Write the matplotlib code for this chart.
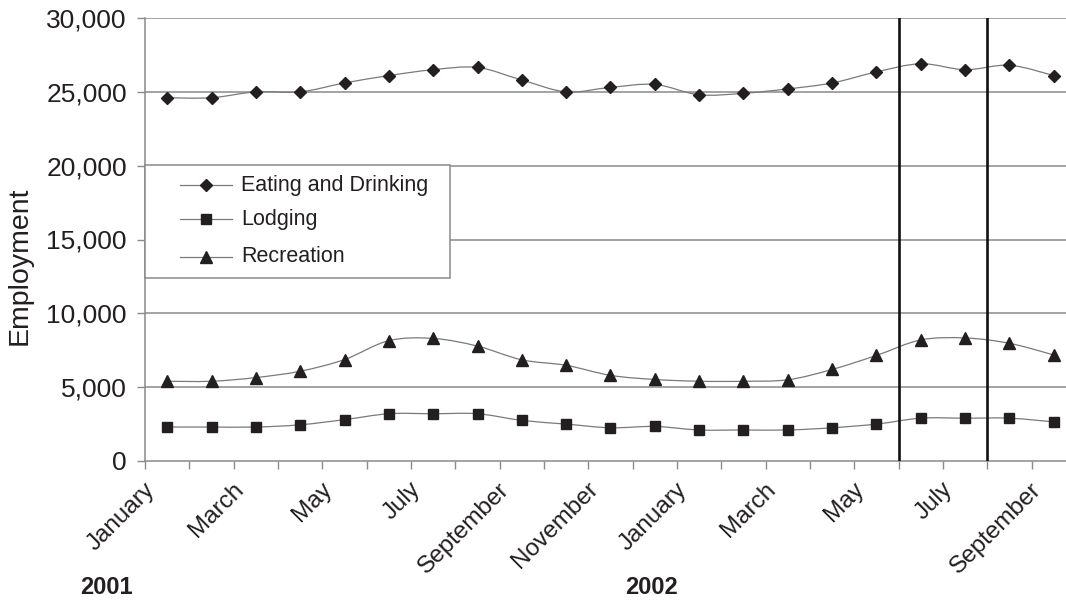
import numpy as np
import matplotlib
matplotlib.use("Agg")
import matplotlib.pyplot as plt
import matplotlib.transforms as mtransforms
from matplotlib.path import Path
from matplotlib.patches import PathPatch, Rectangle
from matplotlib.lines import Line2D
from matplotlib.ticker import FuncFormatter, FixedLocator

# Monthly employment, January 2001 - September 2002
months = ["Jan 2001", "Feb 2001", "Mar 2001", "Apr 2001", "May 2001", "Jun 2001",
          "Jul 2001", "Aug 2001", "Sep 2001", "Oct 2001", "Nov 2001", "Dec 2001",
          "Jan 2002", "Feb 2002", "Mar 2002", "Apr 2002", "May 2002", "Jun 2002",
          "Jul 2002", "Aug 2002", "Sep 2002"]
month_labels = ["January", "March", "May", "July", "September", "November",
                "January", "March", "May", "July", "September"]
years = ["2001", "2002"]

eating = [24600, 24600, 25000, 25000, 25600, 26100, 26500, 26650, 25800, 25000, 25300,
          25500, 24800, 24900, 25200, 25600, 26350, 26900, 26500, 26800, 26100]
lodging = [2300, 2300, 2300, 2450, 2800, 3200, 3200, 3200, 2750, 2500, 2250,
           2340, 2100, 2100, 2100, 2250, 2500, 2900, 2900, 2900, 2650]
recreation = [5400, 5400, 5650, 6080, 6870, 8150, 8300, 7780, 6850, 6480, 5800,
              5520, 5400, 5400, 5500, 6200, 7150, 8200, 8330, 7970, 7180]

# Months bracketed by the two vertical markers (June - July 2002)
highlight = ("Jun 2002", "Jul 2002")

plt.rcParams['font.family'] = ['Liberation Sans', 'DejaVu Sans']
TXT = "#231f20"
GRID = "#8a8a8a"
LINE = "#7a7a7a"

fig = plt.figure(figsize=(10.66, 6.0), dpi=100)
W, H = 1066, 600
ax = fig.add_axes([145 / W, 1 - 461 / H, 931 / W, 443 / H])

x = np.arange(len(months))


def smooth_path(xs, ys):
    """Catmull-Rom style Bezier curve through the points."""
    pts = np.column_stack([xs, ys]).astype(float)
    n = len(pts)
    verts = [pts[0]]
    codes = [Path.MOVETO]
    for i in range(n - 1):
        p0 = pts[i - 1] if i > 0 else pts[i]
        p1 = pts[i]
        p2 = pts[i + 1]
        p3 = pts[i + 2] if i + 2 < n else pts[i + 1]
        c1 = p1 + (p2 - p0) / 6.0
        c2 = p2 - (p3 - p1) / 6.0
        verts += [c1, c2, p2]
        codes += [Path.CURVE4] * 3
    return Path(verts, codes)


series = [
    (eating, "D", 6.4, "Eating and Drinking"),
    (lodging, "s", 7.4, "Lodging"),
    (recreation, "^", 8.5, "Recreation"),
]

for vals, mk, ms, name in series:
    ax.add_patch(PathPatch(smooth_path(x, vals), facecolor="none",
                           edgecolor=LINE, lw=0.9, zorder=3))
    ax.plot(x, vals, linestyle="none", marker=mk, ms=ms, color="#231f20",
            mec="#231f20", zorder=4)

ax.set_xlim(-0.5, len(months) - 0.5)
ax.set_ylim(0, 30000)

# horizontal grid
yt = np.arange(0, 30001, 5000)
for v in yt[1:]:
    ax.axhline(v, color=GRID, lw=1.1, zorder=1)

# vertical markers around the highlighted months
i0 = months.index(highlight[0])
i1 = months.index(highlight[1])
for b in (i0 - 0.5, i1 + 0.5):
    ax.axvline(b, color="#111111", lw=1.9, zorder=5)

for s in ("top", "right"):
    ax.spines[s].set_visible(False)
for s in ("left", "bottom"):
    ax.spines[s].set_color(GRID)
    ax.spines[s].set_linewidth(1.1)

ax.set_yticks(yt)
ax.yaxis.set_major_formatter(FuncFormatter(lambda v, p: f"{int(v):,}"))
ax.tick_params(axis="y", length=5.5, width=1, color=GRID, pad=7.5,
               labelsize=19, labelcolor=TXT)

ax.xaxis.set_major_locator(FixedLocator(np.arange(-0.5, len(months), 1.0)))
ax.tick_params(axis="x", length=6, width=1, color=GRID, labelbottom=False)

# rotated month labels, every second month
lab_tr = mtransforms.offset_copy(ax.get_xaxis_transform(), fig=fig,
                                 x=-16, y=-25, units="dots")
for k, lab in enumerate(month_labels):
    ax.text(2 * k, 0, lab, transform=lab_tr, rotation=45,
            rotation_mode="anchor", ha="right", va="center",
            fontsize=17.5, color=TXT, clip_on=False)

# year labels
fig.text(80 / W, 1 - 587 / H, years[0], fontsize=17, fontweight="bold",
         color=TXT, ha="left", va="center")
fig.text(625 / W, 1 - 587 / H, years[1], fontsize=17, fontweight="bold",
         color=TXT, ha="left", va="center")

fig.text(20 / W, 1 - 266 / H, "Employment", rotation=90, fontsize=20.5,
         color=TXT, ha="center", va="center")

# legend box
fig.patches.append(Rectangle((145 / W, 1 - 278 / H), 305 / W, 113 / H,
                             transform=fig.transFigure, facecolor="white",
                             edgecolor=GRID, lw=1.1, zorder=10))
rows = [185, 219, 257]
for (vals, mk, ms, name), ry in zip(series, rows):
    yy = 1 - ry / H
    fig.add_artist(Line2D([180 / W, 232 / W], [yy, yy], color=LINE, lw=0.9,
                          transform=fig.transFigure, zorder=11))
    fig.add_artist(Line2D([206 / W], [yy], marker=mk, ms=ms, color="#231f20",
                          linestyle="none", transform=fig.transFigure, zorder=12))
    fig.text(241 / W, yy, name, fontsize=15.5, color=TXT, ha="left",
             va="center", zorder=12)

fig.savefig("out.png", dpi=100, facecolor="white")
